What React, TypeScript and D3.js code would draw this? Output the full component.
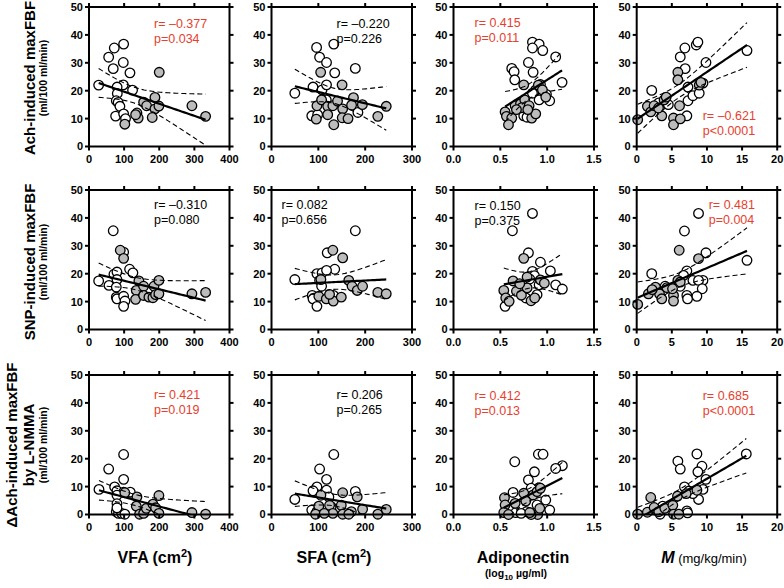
import * as d3 from 'd3';

const FONT = "'Liberation Sans', Arial, Helvetica, sans-serif";
const RED = '#e8402e';
const GRAY = '#bcbcbc';

// ---- tick values / labels ----
const xDomains = [[0, 400], [0, 300], [0, 1.5], [0, 20]];
const xTicks = [[0, 100, 200, 300, 400], [0, 100, 200, 300], [0, 0.5, 1, 1.5], [0, 5, 10, 15, 20]];
const yTicks = [0, 10, 20, 30, 40, 50];

// ---- row 1: Ach-induced maxFBF ----
const achVfaOpen = [[27.5, 22], [56, 32], [72, 35.3], [98.6, 36.7], [69, 27.9], [97.6, 30.1], [116.6, 26.4], [97.6, 22.1], [80, 21.3], [80.6, 19], [124, 20.2], [77.7, 16.4], [83, 15.8], [88, 14.4], [75.8, 10.9], [98.6, 11.7], [104, 10]];
const achVfaFilled = [[200, 26.6], [155.5, 15.9], [164, 14.6], [187.7, 17.6], [187.7, 13.5], [199, 14.5], [180, 10.4], [136.5, 12], [140, 10.2], [132.7, 11.4], [293, 14.6], [332, 10.8], [102, 8]];
const achSfaOpen = [[49.8, 19.1], [96.3, 35.5], [102.7, 32], [117.5, 30.1], [133, 36.7], [135, 26.4], [179, 28], [88.6, 21.3], [108, 20.3], [117.5, 22.1], [108, 16.7], [117, 16.7], [86, 11], [98.5, 11.4], [184.5, 12.2]];
const achSfaFilled = [[105, 26.6], [150.7, 22.1], [97, 14.6], [107, 16.7], [120, 14.4], [131, 14.6], [141, 16.3], [152, 13.5], [151, 10.3], [163.4, 10], [133, 7.8], [120, 11.4], [95.6, 9.8], [175, 17.5], [171, 14.8], [194, 15], [227, 10.8], [245, 14.4]];
const achAdipoOpen = [[0.843, 37.4], [0.914, 36.7], [0.843, 35.3], [0.953, 34.4], [1.091, 32.1], [0.8, 30.1], [0.622, 28], [0.647, 26.8], [0.654, 23.9], [0.85, 26.6], [1.159, 23], [0.928, 22.2], [0.878, 20.3], [0.843, 19.1], [1.027, 16.4], [0.914, 16.7], [0.75, 11], [0.785, 10.5], [0.992, 18.7]];
const achAdipoFilled = [[0.75, 22.1], [0.906, 22], [0.949, 20.3], [0.985, 17.7], [0.551, 12.4], [0.565, 10.8], [0.622, 10.2], [0.587, 7.8], [0.658, 14.6], [0.715, 15.3], [0.761, 16.7], [0.729, 13.9], [0.807, 14.6], [0.835, 10.2], [0.878, 11.7], [0.793, 13.2], [0.672, 13.2]];
const achMOpen = [[2.14, 20.1], [6.2, 32.1], [6.86, 35.3], [8.48, 36.4], [8.71, 37.4], [9.86, 30.1], [15.7, 34.4], [6.9, 27.9], [7.3, 21.3], [7.3, 16.4], [7.14, 11], [8, 18.2], [8.9, 19.1], [9.43, 22.7], [4, 16], [4.5, 15], [3.14, 15.6]];
const achMFilled = [[0.14, 9.6], [5.86, 26.6], [5.86, 23.9], [8.9, 22], [9.14, 23], [1.52, 14.4], [2, 12.4], [2.48, 14.6], [3.57, 11], [3.9, 16.7], [4.2, 17.7], [5.24, 10.2], [5.24, 7.8], [6.1, 14.6], [6.2, 9.9], [3.1, 13.8]];

// ---- row 2: SNP-induced maxFBF ----
const snpVfaOpen = [[27.5, 17.4], [56.9, 15.8], [69, 35.4], [71, 19.8], [79.6, 20.6], [79.6, 17.9], [77.7, 15.2], [77.7, 11.6], [79.6, 11], [98.6, 11.9], [102.4, 10.2], [98.6, 8.3], [115.6, 21.6], [125, 20.3], [98.6, 27.7]];
const snpVfaFilled = [[89, 28.4], [98.6, 25.5], [142, 17.4], [134.6, 14], [132.7, 10.8], [155.5, 15.5], [155.5, 12.2], [170.6, 11.6], [182, 11.4], [185, 15.5], [189.6, 12.5], [199, 17.6], [199, 12.8], [293, 12.8], [332, 13.3]];
const snpSfaOpen = [[49.8, 17.9], [179, 35.4], [119, 27.5], [135, 21.6], [97, 20], [108, 20.3], [117.5, 21.2], [102.7, 17.6], [107, 15.5], [87, 12.2], [88.6, 11], [97, 8.3], [132.3, 12.2]];
const snpSfaFilled = [[131, 28.4], [152, 25.7], [165, 17.6], [172, 15.5], [183, 14], [194.5, 15.5], [227, 13.3], [245, 12.8], [101, 11.9], [117, 11], [132, 10.2], [149, 11.6], [105.5, 17.9], [124, 12.6]];
const snpAdipoOpen = [[0.843, 41.6], [0.629, 35.4], [0.8, 27.5], [0.928, 24.1], [1.034, 21], [0.843, 20.8], [0.864, 19.3], [0.814, 18.1], [1.091, 16], [1.162, 14.5], [0.914, 16], [0.772, 11.3], [0.892, 12.5], [0.551, 8.3]];
const snpAdipoFilled = [[0.75, 25.5], [0.636, 17.4], [0.537, 14], [0.558, 11.3], [0.594, 10.1], [0.672, 13.7], [0.725, 12.3], [0.786, 14.9], [0.828, 10.3], [0.867, 11.3], [0.928, 17.8], [0.97, 16.6], [0.786, 18.8], [0.707, 16.4]];
const snpMOpen = [[2.14, 20], [6.8, 35.3], [8.8, 41.6], [9.86, 27.5], [15.7, 24.8], [7.14, 21], [6.67, 19.4], [8, 17.6], [9.43, 17.6], [8.8, 17.6], [9.33, 14.6], [7.14, 12.2], [7.24, 11], [8.57, 11.9], [4.05, 15.5], [6.2, 15.5]];
const snpMFilled = [[0.14, 9], [6.05, 28.4], [8.8, 25.4], [1.67, 12.8], [2.67, 15.2], [3.24, 12.8], [3.57, 11], [5.24, 12.2], [5.24, 10.2], [5.86, 17.6], [6.2, 17], [4.3, 15], [5.1, 14.6], [2.2, 14.3]];

// ---- row 3: delta Ach-induced maxFBF by L-NMMA ----
const nmmaVfaOpen = [[28.4, 9], [56, 16.3], [98.6, 21.5], [98.6, 12.6], [73, 9.9], [79.6, 8.5], [98.6, 8], [117.5, 8], [79.6, 6.9], [79.6, 3.9], [77.7, 1], [84, 0.4], [93, 0.4], [102, 0.1], [79.6, 2.4]];
const nmmaVfaFilled = [[136.5, 6.3], [134.6, 3], [144, 0.1], [155.5, 0.4], [163, 2.2], [182, 3.7], [189.6, 2.4], [199, 6.8], [199, 0.4], [293, 0.7], [332, 0.1], [102, 7.8]];
const nmmaSfaOpen = [[49.8, 5.4], [133, 21.5], [102.7, 16.3], [117.5, 12.6], [97, 9.9], [88.6, 8.5], [117.5, 8.7], [179, 8.3], [86, 1.6], [97, 1], [127.4, 2.8], [122.5, 6.3]];
const nmmaSfaFilled = [[105.5, 6.9], [152, 7.8], [183, 6.3], [101, 3], [124, 3.3], [149, 3.3], [94, 0.1], [131, 0.4], [152, 0.1], [170.5, 1], [194.5, 1.9], [227, 0.1], [245, 1.8], [165, 0.1], [112.6, 0.4]];
const nmmaAdipoOpen = [[0.654, 18.9], [0.906, 21.6], [0.956, 21.6], [1.162, 17.5], [1.091, 16.5], [0.864, 15.3], [0.8, 12.4], [0.914, 9.6], [0.829, 9.4], [0.636, 7.9], [0.985, 5.2], [1.027, 1.6], [0.892, 3.4], [0.722, 3.1], [0.779, 1], [0.665, 0.7], [0.722, 0.4]];
const nmmaAdipoFilled = [[0.544, 6], [0.551, 3.4], [0.537, 0.7], [0.587, 0], [0.75, 7.6], [0.85, 7], [0.892, 8.2], [0.928, 9.4], [0.899, 0], [0.829, 0], [0.658, 4], [0.814, 0.7], [0.921, 2.2], [0.772, 4.8]];
const nmmaMOpen = [[15.6, 21.7], [8.57, 21.7], [5.86, 19.1], [6.2, 16.3], [9.29, 17.3], [8.71, 15.3], [9.86, 12.6], [9.43, 9], [8.81, 5.4], [6.8, 9.9], [7.43, 8.4], [8, 7.5], [7.14, 1.3], [7.24, 0.6], [3.7, 3], [2.76, 1.6], [3.33, 0.1]];
const nmmaMFilled = [[0.14, 0.1], [1.52, 0.8], [2, 6.1], [2.48, 2.5], [3.14, 1], [4, 2.2], [5.14, 3.3], [5.24, 0.1], [6, 0.1], [5.81, 6.6], [7.05, 7.5], [8.57, 8.7]];

const openPts = [
  [achVfaOpen, achSfaOpen, achAdipoOpen, achMOpen],
  [snpVfaOpen, snpSfaOpen, snpAdipoOpen, snpMOpen],
  [nmmaVfaOpen, nmmaSfaOpen, nmmaAdipoOpen, nmmaMOpen],
];
const filledPts = [
  [achVfaFilled, achSfaFilled, achAdipoFilled, achMFilled],
  [snpVfaFilled, snpSfaFilled, snpAdipoFilled, snpMFilled],
  [nmmaVfaFilled, nmmaSfaFilled, nmmaAdipoFilled, nmmaMFilled],
];

// ---- correlation labels ----
const rTexts = [
  ['r= \u20130.377', 'r= \u20130.220', 'r= 0.415', 'r= \u20130.621'],
  ['r= \u20130.310', 'r= 0.082', 'r= 0.150', 'r= 0.481'],
  ['r= 0.421', 'r= 0.206', 'r= 0.412', 'r= 0.685'],
];
const pTexts = [
  ['p=0.034', 'p=0.226', 'p=0.011', 'p<0.0001'],
  ['p=0.080', 'p=0.656', 'p=0.375', 'p=0.004'],
  ['p=0.019', 'p=0.265', 'p=0.013', 'p<0.0001'],
];
const significant = [
  [true, false, true, true],
  [false, false, false, true],
  [true, false, true, true],
];

// layout
const colLeft = [89, 271.5, 453.5, 636.7];
const rowTop = [7, 190, 375];
const PW = 140.5;
const PH = 139.5;
const statDx = [[65, 65, 21, 66], [65, 10, 21, 72], [65, 65, 21, 66]];
const statDy = [[21, 21, 20, 113], [19, 19, 20, 19], [24, 24, 25, 25]];

function fit(pts: number[][]) {
  const n = pts.length;
  const mx = d3.mean(pts, (d) => d[0])!;
  const my = d3.mean(pts, (d) => d[1])!;
  const sxx = d3.sum(pts, (d) => (d[0] - mx) ** 2);
  const sxy = d3.sum(pts, (d) => (d[0] - mx) * (d[1] - my));
  const b = sxy / sxx;
  const a = my - b * mx;
  const sse = d3.sum(pts, (d) => (d[1] - a - b * d[0]) ** 2);
  const s = Math.sqrt(sse / (n - 2));
  const t = 1.96 + 2.5 / (n - 2); // ~95% t quantile
  const [x0, x1] = d3.extent(pts, (d) => d[0]) as [number, number];
  const half = (x: number) => t * s * Math.sqrt(1 / n + (x - mx) ** 2 / sxx);
  return { a, b, half, x0, x1 };
}

function Panel({ row, col }: { row: number; col: number }) {
  const x = d3.scaleLinear().domain(xDomains[col]).range([0, PW]);
  const y = d3.scaleLinear().domain([0, 50]).range([PH, 0]);
  const open = openPts[row][col];
  const filled = filledPts[row][col];
  const f = fit(open.concat(filled));
  const xs = d3.range(0, 41).map((i) => f.x0 + ((f.x1 - f.x0) * i) / 40);
  const mid = d3.line<number>().x((v) => x(v)).y((v) => y(f.a + f.b * v))(xs);
  const up = d3.line<number>().x((v) => x(v)).y((v) => y(f.a + f.b * v + f.half(v)))(xs);
  const lo = d3.line<number>().x((v) => x(v)).y((v) => y(f.a + f.b * v - f.half(v)))(xs);
  const clip = `clip-${row}-${col}`;
  const fmt = col === 2 ? (v: number) => v.toFixed(1) : (v: number) => String(v);
  const tl = 4;
  return (
    <g transform={`translate(${colLeft[col]},${rowTop[row]})`}>
      <clipPath id={clip}>
        <rect x={0} y={0} width={PW} height={PH} />
      </clipPath>
      {open.map((d, i) => (
        <circle key={'o' + i} cx={x(d[0])} cy={y(d[1])} r={4.8} fill="#fff" stroke="#000" strokeWidth={1.3} />
      ))}
      {filled.map((d, i) => (
        <circle key={'f' + i} cx={x(d[0])} cy={y(d[1])} r={4.8} fill={GRAY} stroke="#000" strokeWidth={1.3} />
      ))}
      <g clipPath={`url(#${clip})`} fill="none" stroke="#000">
        <path d={up!} strokeWidth={1.1} strokeDasharray="5,3" />
        <path d={lo!} strokeWidth={1.1} strokeDasharray="5,3" />
        <path d={mid!} strokeWidth={2.2} />
      </g>
      <rect x={0} y={0} width={PW} height={PH} fill="none" stroke="#000" strokeWidth={2} />
      <g stroke="#000" strokeWidth={2}>
        {yTicks.map((v) => (
          <g key={'y' + v}>
            <line x1={-tl} x2={0} y1={y(v)} y2={y(v)} />
            <line x1={PW} x2={PW + tl} y1={y(v)} y2={y(v)} />
          </g>
        ))}
        {xTicks[col].map((v) => (
          <g key={'x' + v}>
            <line x1={x(v)} x2={x(v)} y1={PH} y2={PH + tl} />
            <line x1={x(v)} x2={x(v)} y1={-tl} y2={0} />
          </g>
        ))}
      </g>
      <g fontFamily={FONT} fontWeight="bold" fontSize={11} fill="#000">
        {yTicks.map((v) => (
          <text key={'yl' + v} x={-6} y={y(v)} dy="0.36em" textAnchor="end">{v}</text>
        ))}
        {xTicks[col].map((v) => (
          <text key={'xl' + v} x={x(v)} y={PH + 16} textAnchor="middle">{fmt(v)}</text>
        ))}
      </g>
      <g fontFamily={FONT} fontSize={12.5} fill={significant[row][col] ? RED : '#000'}>
        <text x={statDx[row][col]} y={statDy[row][col]}>{rTexts[row][col]}</text>
        <text x={statDx[row][col]} y={statDy[row][col] + 15}>{pTexts[row][col]}</text>
      </g>
    </g>
  );
}

export default function App() {
  const rows = [0, 1, 2];
  const cols = [0, 1, 2, 3];
  return (
    <svg width={784} height={588} style={{ position: 'absolute', left: 0, top: 0, background: '#fff' }}>
      <rect width={784} height={588} fill="#fff" />
      {rows.map((r) => cols.map((c) => <Panel key={`${r}-${c}`} row={r} col={c} />))}
      <g fontFamily={FONT} fontWeight="bold" fill="#000" textAnchor="middle">
        <text transform="translate(35,78) rotate(-90)" fontSize={15}>Ach-induced maxFBF</text>
        <text transform="translate(47,78) rotate(-90)" fontSize={10.5}>(ml/100 ml/min)</text>
        <text transform="translate(35,262) rotate(-90)" fontSize={15}>SNP-induced maxFBF</text>
        <text transform="translate(47,262) rotate(-90)" fontSize={10.5}>(ml/100 ml/min)</text>
        <text transform="translate(17,445) rotate(-90)" fontSize={15}>{'\u0394Ach-induced maxFBF'}</text>
        <text transform="translate(34,445) rotate(-90)" fontSize={15}>by L-NMMA</text>
        <text transform="translate(47,445) rotate(-90)" fontSize={10.5}>(ml/100 ml/min)</text>
        <text x={155} y={563} fontSize={16}>
          VFA (cm<tspan dy={-6} fontSize={11}>2</tspan><tspan dy={6}>)</tspan>
        </text>
        <text x={334} y={563} fontSize={16}>
          SFA (cm<tspan dy={-6} fontSize={11}>2</tspan><tspan dy={6}>)</tspan>
        </text>
        <text x={523} y={563} fontSize={16}>Adiponectin</text>
        <text x={516} y={577} fontSize={10.5}>
          (log<tspan dy={3} fontSize={8}>10</tspan><tspan dy={-3}> {'\u00b5'}g/ml)</tspan>
        </text>
        <text x={704} y={563} fontSize={16}>
          <tspan fontStyle="italic">M</tspan>
          <tspan fontWeight="normal" fontSize={13}> (mg/kg/min)</tspan>
        </text>
      </g>
    </svg>
  );
}
